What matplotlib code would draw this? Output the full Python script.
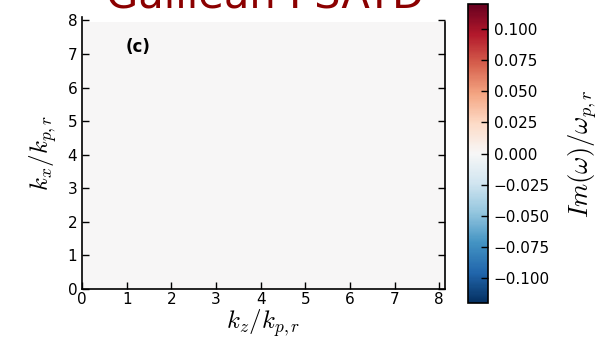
import numpy as np
import matplotlib
matplotlib.use('Agg')
import matplotlib.pyplot as plt

plt.rcParams['mathtext.fontset'] = 'cm'

# growth rate map over (kz, kx): zero everywhere for this scheme
kz_max = 8.13
kx_max = 7.94
growth = np.zeros((80, 80))

x_ticks = [0, 1, 2, 3, 4, 5, 6, 7, 8]
y_ticks = [0, 1, 2, 3, 4, 5, 6, 7, 8]
cbar_ticks = [-0.1, -0.075, -0.05, -0.025, 0.0, 0.025, 0.05, 0.075, 0.1]
vmin, vmax = -0.12, 0.12

fig = plt.figure(figsize=(6, 3.43), dpi=100)
W, H = 600, 343

def box(l, t, r, b):
    return [l / W, 1 - b / H, (r - l) / W, (b - t) / H]

ax = fig.add_axes(box(82, 17, 445, 289))
im = ax.imshow(growth, cmap='RdBu_r', vmin=vmin, vmax=vmax, origin='lower',
               extent=[0, kz_max, 0, kx_max], aspect='auto', interpolation='nearest')
ax.set_xlim(0, kz_max)
ax.set_ylim(0, 8.1)
ax.spines['top'].set_visible(False)
ax.spines['right'].set_bounds(0, kx_max)
ax.set_xticks(x_ticks)
ax.set_yticks(y_ticks)
ax.tick_params(direction='in', right=True, top=False, labelsize=11, length=5, width=1)
ax.tick_params(axis='x', pad=2)
for s in ax.spines.values():
    s.set_linewidth(1.2)
ax.set_xlabel(r'$k_z/k_{p,r}$', fontsize=18, labelpad=0)
ax.set_ylabel(r'$k_x/k_{p,r}$', fontsize=18, labelpad=6)
ax.text(0.12, 0.87, '(c)', transform=ax.transAxes, fontsize=12, fontweight='bold')

cax = fig.add_axes(box(468, 4, 488, 303))
cb = fig.colorbar(im, cax=cax)
cb.set_ticks(cbar_ticks)
cb.ax.set_yticklabels(['\u22120.100', '\u22120.075', '\u22120.050', '\u22120.025',
                       '0.000', '0.025', '0.050', '0.075', '0.100'])
cb.ax.tick_params(direction='in', labelsize=11, length=5, width=1, pad=4)
cb.outline.set_linewidth(1.2)
cb.set_label(r'$Im(\omega)/\omega_{p,r}$', fontsize=19, labelpad=12)

fig.text(265 / W, 1 - 8 / H, 'Galilean PSATD', color='#8b0000', fontsize=30,
         ha='center', va='baseline')

fig.savefig('out.png', dpi=100)
